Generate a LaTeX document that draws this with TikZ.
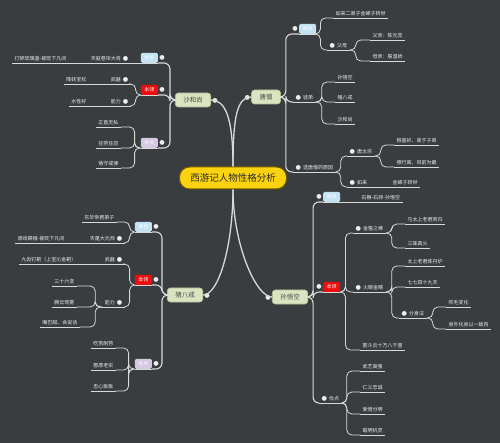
\documentclass[tikz,border=0pt]{standalone}
\usepackage{fontspec}
\usetikzlibrary{positioning}
\newfontfamily\cjk{Noto Sans CJK SC}
\newfontfamily\dejavu{DejaVu Sans}
\definecolor{clrbg}{HTML}{3A3D3F}
\definecolor{clrline}{HTML}{D9D9D9}
\definecolor{clrtext}{HTML}{EDEDED}
\definecolor{clrknob}{HTML}{EEEEEE}
\definecolor{clrtitle}{HTML}{FAD20F}
\definecolor{clrtitle_edge}{HTML}{6E5C00}
\definecolor{clrtitle_text}{HTML}{2B2B2B}
\definecolor{clrhero}{HTML}{D9E4C1}
\definecolor{clrhero_edge}{HTML}{B2BF95}
\definecolor{clrhero_text}{HTML}{4A4A4A}
\definecolor{clrid}{HTML}{C3E3F2}
\definecolor{clrskill}{HTML}{EE0C0C}
\definecolor{clrgood}{HTML}{D6C8E3}
\newcommand\leafsize{\fontsize{5}{6}\selectfont}
\newcommand\herosize{\fontsize{6.5}{8}\selectfont}
\newcommand\knob{{\dejavu\fontsize{6.2}{6.2}\selectfont\color{clrknob}●}}

\begin{document}
\begin{tikzpicture}[
    x=1pt, y=-1pt,
    every node/.style={font=\cjk},
    underline/.style={draw=clrline, line width=0.8pt},
    title/.style={fill=clrtitle, draw=clrtitle_edge, line width=1pt, rounded corners=10pt,
                  minimum width=107pt, minimum height=22pt,
                  font=\cjk\fontsize{9.5}{11}\selectfont, text=clrtitle_text},
    hero/.style={fill=clrhero, draw=clrhero_edge, rounded corners=3pt, line width=0.6pt,
                 font=\cjk\herosize, text=clrhero_text, inner xsep=8pt, inner ysep=0pt,
                 minimum height=14pt},
    leaf/.style={font=\cjk\leafsize, text=clrtext, inner xsep=2.5pt, inner ysep=1.8pt,
                 append after command={(\tikzlastnode.south west) edge[underline] (\tikzlastnode.south east)}},
    leafr/.style={leaf, anchor=south west},
    leafl/.style={leaf, anchor=south east},
    tag/.style={rounded corners=1.5pt, font=\cjk\leafsize, text=white, inner xsep=3.5pt,
                inner ysep=2pt, minimum height=10pt,
                append after command={(\tikzlastnode.south west) edge[underline] (\tikzlastnode.south east)}},
    tagr/.style={tag, anchor=south west},
    tagl/.style={tag, anchor=south east},
    trunk/.style={draw=clrline, line width=1.3pt},
    stem/.style={draw=clrline, line width=1.1pt, rounded corners=6pt},
    branch/.style={draw=clrline, line width=0.8pt, rounded corners=5pt},
]
\fill[clrbg] (0,0) rectangle (500,443);
\useasboundingbox (0,0) rectangle (500,443);

\node[title] (title) at (233,178) {西游记人物性格分析};

\node[hero] (tangseng) at (266,97) {\llap{\knob\hspace{9.5pt}}唐僧};
\node[tagr, fill=clrid] (ts_id) at (299,34) {\llap{\knob\hspace{5pt}}身份};
\node[leafr] (ts_jz) at (333,18) {如来二弟子金蝉子转世};
\node[leafr] (ts_fm) at (327,50) {\knob\hspace{2pt}父母};
\node[leafr] (ts_fq) at (370,40) {父亲：陈光蕊};
\node[leafr] (ts_mq) at (370,61) {母亲：殷温娇};
\node[leafr] (ts_td) at (293,102) {\knob\hspace{2pt}徒弟};
\node[leafr] (ts_sun) at (335,82) {孙悟空};
\node[leafr] (ts_zhu) at (335,102) {猪八戒};
\node[leafr] (ts_sha) at (335,124) {沙和尚};
\node[leafr] (ts_why) at (293,172) {\knob\hspace{2pt}选唐僧的原因};
\node[leafr] (ts_tz) at (347,156) {\knob\hspace{2pt}唐太宗};
\node[leafr] (ts_tz1) at (394,145) {根基好、高于子弟};
\node[leafr] (ts_tz2) at (394,167) {德行高、目前为最};
\node[leafr] (ts_rl) at (347,187) {\knob\hspace{2pt}如来};
\node[leafr] (ts_rl1) at (390,187) {金蝉子转世};

\node[hero] (sun) at (290,297) {\llap{\knob\hspace{9.5pt}}孙悟空};
\node[tagr, fill=clrid] (sw_id) at (323,202) {\llap{\knob\hspace{5pt}}身份};
\node[leafr] (sw_id1) at (359,202) {石猴-石卵-孙悟空};
\node[tagr, fill=clrskill] (sw_bl) at (323,292) {\llap{\knob\hspace{5pt}}本领};
\node[leafr] (sw_jg) at (353,233) {\knob\hspace{2pt}金箍之棒};
\node[leafr] (sw_jg1) at (405,224) {与太上老君同归};
\node[leafr] (sw_jg2) at (405,248) {三昧真火};
\node[leafr] (sw_hy) at (353,292) {\knob\hspace{2pt}火眼金睛};
\node[leafr] (sw_hy1) at (405,266) {太上老君炼丹炉};
\node[leafr] (sw_hy2) at (405,287) {七七四十九天};
\node[leafr] (sw_fs) at (399,318) {\knob\hspace{2pt}分身法};
\node[leafr] (sw_fs1) at (446,307) {吹毛变化};
\node[leafr] (sw_fs2) at (446,329) {身外化身以一敌百};
\node[leafr] (sw_jd) at (360,350) {筋斗云十万八千里};
\node[leafr] (sw_yd) at (319,403) {\knob\hspace{2pt}优点};
\node[leafr] (sw_yd1) at (360,371) {武艺高强};
\node[leafr] (sw_yd2) at (360,392) {仁义忠诚};
\node[leafr] (sw_yd3) at (360,414) {爱憎分明};
\node[leafr] (sw_yd4) at (360,435) {聪明机灵};

\node[hero] (sha) at (193,100) {沙和尚\rlap{\hspace{9.5pt}\knob}};
\node[tagl, fill=clrid] (sh_id) at (158,63) {身份\rlap{\hspace{5pt}\knob}};
\node[leafl] (sh_id1) at (131,63) {天庭卷帘大将\hspace{2pt}\knob};
\node[leafl] (sh_id2) at (69,63) {打碎琉璃盏-被贬下凡间};
\node[tagl, fill=clrskill] (sh_bl) at (158,95) {本领\rlap{\hspace{5pt}\knob}};
\node[leafl] (sh_wq) at (131,84) {武器\hspace{2pt}\knob};
\node[leafl] (sh_wq1) at (89,84) {降妖宝杖};
\node[leafl] (sh_nl) at (131,106) {能力\hspace{2pt}\knob};
\node[leafl] (sh_nl1) at (89,106) {水性好};
\node[tagl, fill=clrgood] (sh_yd) at (158,148) {优点\rlap{\hspace{5pt}\knob}};
\node[leafl] (sh_yd1) at (121,127) {正直无私};
\node[leafl] (sh_yd2) at (121,148) {任劳任怨};
\node[leafl] (sh_yd3) at (121,168) {恪守戒律};

\node[hero] (zhu) at (185,295) {猪八戒\rlap{\hspace{9.5pt}\knob}};
\node[tagl, fill=clrid] (zb_id) at (152,232) {身份\rlap{\hspace{5pt}\knob}};
\node[leafl] (zb_id1) at (117,222) {东华帝君弟子};
\node[leafl] (zb_id2) at (125,243) {天蓬大元帅\hspace{2pt}\knob};
\node[leafl] (zb_id3) at (67,243) {调戏嫦娥-被贬下凡间};
\node[tagl, fill=clrskill] (zb_bl) at (152,285) {本领\rlap{\hspace{5pt}\knob}};
\node[leafl] (zb_wq) at (125,264) {武器\hspace{2pt}\knob};
\node[leafl] (zb_wq1) at (79,264) {九齿钉耙（上宝沁金耙）};
\node[leafl] (zb_nl) at (125,307) {能力\hspace{2pt}\knob};
\node[leafl] (zb_nl1) at (77,286) {三十六变};
\node[leafl] (zb_nl2) at (77,307) {腾云驾雾};
\node[leafl] (zb_nl3) at (80,327) {嘴巴甜、会说话};
\node[tagl, fill=clrgood] (zb_yd) at (152,369) {优点\rlap{\hspace{5pt}\knob}};
\node[leafl] (zb_yd1) at (116,348) {吃苦耐劳};
\node[leafl] (zb_yd2) at (116,370) {憨厚老实};
\node[leafl] (zb_yd3) at (116,391) {忠心耿耿};

\draw[trunk] (title.north) .. controls +(0,-50) and +(-14,0) .. (tangseng.west);
\draw[trunk] (title.north) .. controls +(0,-50) and +(14,0) .. (sha.east);
\draw[trunk] (title.south) .. controls +(0,55) and +(-16,0) .. (sun.west);
\draw[trunk] (title.south) .. controls +(0,55) and +(16,0) .. (zhu.east);

\draw[stem] (tangseng.east) -- ++(5,0) |- (ts_id.south west);
\draw[stem] (tangseng.east) -- ++(5,0) |- (ts_td.south west);
\draw[stem] (tangseng.east) -- ++(5,0) |- (ts_why.south west);
\draw[branch] (ts_id.south east) -- ++(4,0) |- (ts_jz.south west);
\draw[branch] (ts_id.south east) -- ++(4,0) |- (ts_fm.south west);
\draw[branch] (ts_fm.south east) -- ++(6,0) |- (ts_fq.south west);
\draw[branch] (ts_fm.south east) -- ++(6,0) |- (ts_mq.south west);
\draw[branch] (ts_td.south east) -- ++(6,0) |- (ts_sun.south west);
\draw[branch] (ts_td.south east) -- ++(6,0) |- (ts_zhu.south west);
\draw[branch] (ts_td.south east) -- ++(6,0) |- (ts_sha.south west);
\draw[branch] (ts_why.south east) -- ++(5,0) |- (ts_tz.south west);
\draw[branch] (ts_why.south east) -- ++(5,0) |- (ts_rl.south west);
\draw[branch] (ts_tz.south east) -- ++(6,0) |- (ts_tz1.south west);
\draw[branch] (ts_tz.south east) -- ++(6,0) |- (ts_tz2.south west);
\draw[branch] (ts_rl.south east) -- (ts_rl1.south west);

\draw[stem] (sun.east) -- ++(5,0) |- (sw_id.south west);
\draw[stem] (sun.east) -- ++(5,0) |- (sw_bl.south west);
\draw[stem] (sun.east) -- ++(5,0) |- (sw_yd.south west);
\draw[branch] (sw_id.south east) -- (sw_id1.south west);
\draw[branch] (sw_bl.south east) -- ++(5,0) |- (sw_jg.south west);
\draw[branch] (sw_bl.south east) -- ++(5,0) |- (sw_hy.south west);
\draw[branch] (sw_bl.south east) -- ++(5,0) |- (sw_jd.south west);
\draw[branch] (sw_jg.south east) -- ++(6,0) |- (sw_jg1.south west);
\draw[branch] (sw_jg.south east) -- ++(6,0) |- (sw_jg2.south west);
\draw[branch] (sw_hy.south east) -- ++(6,0) |- (sw_hy1.south west);
\draw[branch] (sw_hy.south east) -- ++(6,0) |- (sw_hy2.south west);
\draw[branch] (sw_hy.south east) -- ++(6,0) |- (sw_fs.south west);
\draw[branch] (sw_fs.south east) -- ++(6,0) |- (sw_fs1.south west);
\draw[branch] (sw_fs.south east) -- ++(6,0) |- (sw_fs2.south west);
\draw[branch] (sw_yd.south east) -- ++(5,0) |- (sw_yd1.south west);
\draw[branch] (sw_yd.south east) -- ++(5,0) |- (sw_yd2.south west);
\draw[branch] (sw_yd.south east) -- ++(5,0) |- (sw_yd3.south west);
\draw[branch] (sw_yd.south east) -- ++(5,0) |- (sw_yd4.south west);

\draw[stem] (sha.west) -- ++(-5,0) |- (sh_id.south east);
\draw[stem] (sha.west) -- ++(-5,0) |- (sh_bl.south east);
\draw[stem] (sha.west) -- ++(-5,0) |- (sh_yd.south east);
\draw[branch] (sh_id.south west) -- (sh_id1.south east);
\draw[branch] (sh_id1.south west) -- (sh_id2.south east);
\draw[branch] (sh_bl.south west) -- ++(-5,0) |- (sh_wq.south east);
\draw[branch] (sh_bl.south west) -- ++(-5,0) |- (sh_nl.south east);
\draw[branch] (sh_wq.south west) -- (sh_wq1.south east);
\draw[branch] (sh_nl.south west) -- (sh_nl1.south east);
\draw[branch] (sh_yd.south west) -- ++(-6,0) |- (sh_yd1.south east);
\draw[branch] (sh_yd.south west) -- ++(-6,0) |- (sh_yd2.south east);
\draw[branch] (sh_yd.south west) -- ++(-6,0) |- (sh_yd3.south east);

\draw[stem] (zhu.west) -- ++(-5,0) |- (zb_id.south east);
\draw[stem] (zhu.west) -- ++(-5,0) |- (zb_bl.south east);
\draw[stem] (zhu.west) -- ++(-5,0) |- (zb_yd.south east);
\draw[branch] (zb_id.south west) -- ++(-5,0) |- (zb_id1.south east);
\draw[branch] (zb_id.south west) -- ++(-5,0) |- (zb_id2.south east);
\draw[branch] (zb_id2.south west) -- (zb_id3.south east);
\draw[branch] (zb_bl.south west) -- ++(-5,0) |- (zb_wq.south east);
\draw[branch] (zb_bl.south west) -- ++(-5,0) |- (zb_nl.south east);
\draw[branch] (zb_wq.south west) -- (zb_wq1.south east);
\draw[branch] (zb_nl.south west) -- ++(-7,0) |- (zb_nl1.south east);
\draw[branch] (zb_nl.south west) -- ++(-7,0) |- (zb_nl2.south east);
\draw[branch] (zb_nl.south west) -- ++(-7,0) |- (zb_nl3.south east);
\draw[branch] (zb_yd.south west) -- ++(-6,0) |- (zb_yd1.south east);
\draw[branch] (zb_yd.south west) -- ++(-6,0) |- (zb_yd2.south east);
\draw[branch] (zb_yd.south west) -- ++(-6,0) |- (zb_yd3.south east);
\end{tikzpicture}
\end{document}
